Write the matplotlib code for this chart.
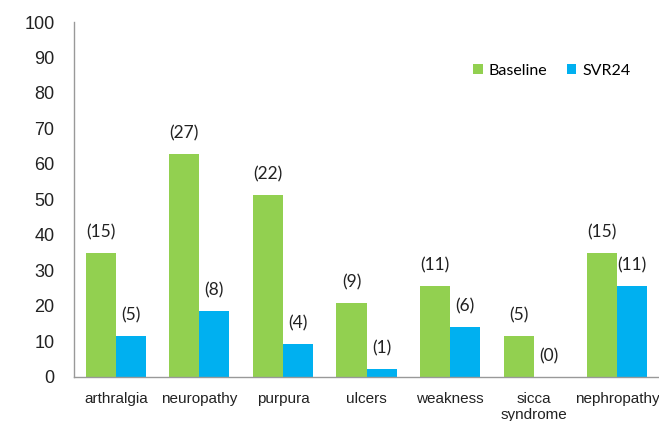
import matplotlib
matplotlib.use("Agg")
import matplotlib.pyplot as plt
import numpy as np

categories = ["arthralgia", "neuropathy", "purpura", "ulcers", "weakness", "sicca\nsyndrome", "nephropathy"]
baseline = [34.9, 62.8, 51.2, 20.9, 25.6, 11.6, 34.9]
svr24 = [11.6, 18.6, 9.3, 2.3, 14.0, 0.0, 25.6]
baseline_n = ["(15)", "(27)", "(22)", "(9)", "(11)", "(5)", "(15)"]
svr24_n = ["(5)", "(8)", "(4)", "(1)", "(6)", "(0)", "(11)"]
yticks = [0, 10, 20, 30, 40, 50, 60, 70, 80, 90, 100]

green = "#92D050"
blue = "#00B0F0"
tick_font = ["Liberation Sans Narrow", "Liberation Sans", "DejaVu Sans"]
label_font = ["Lato", "DejaVu Sans"]

fig = plt.figure(figsize=(6.59, 4.21), dpi=100)
ax = fig.add_axes([0.1123, 0.1052, 0.8877, 0.8425])

x = np.arange(len(categories))
w = 0.36
ax.bar(x - w / 2, baseline, w, color=green, label="Baseline")
ax.bar(x + w / 2, svr24, w, color=blue, label="SVR24")

for xi, v, t in zip(x, baseline, baseline_n):
    ax.annotate(t, (xi - w / 2, v), xytext=(0, 9), textcoords="offset points",
                ha="center", va="bottom", fontsize=12.5, color="#222222", family=label_font)
for xi, v, t in zip(x, svr24, svr24_n):
    ax.annotate(t, (xi + w / 2, v), xytext=(0, 9), textcoords="offset points",
                ha="center", va="bottom", fontsize=12.5, color="#222222", family=label_font)

ax.set_xlim(-0.5, len(categories) - 0.5)
ax.set_ylim(0, 100)
ax.set_yticks(yticks)
ax.set_yticklabels([str(t) for t in yticks], fontsize=13, family=tick_font, color="#222222")
ax.set_xticks(x)
ax.set_xticklabels(categories, fontsize=11, family=tick_font, color="#222222", linespacing=1.15)
ax.tick_params(axis="y", length=0, pad=14)
ax.tick_params(axis="x", length=0, pad=11)

for s in ["top", "right"]:
    ax.spines[s].set_visible(False)
for s in ["left", "bottom"]:
    ax.spines[s].set_color("#999999")
    ax.spines[s].set_linewidth(1.0)

leg = ax.legend(loc="center", bbox_to_anchor=(552 / 659, 1 - 71 / 421), bbox_transform=fig.transFigure,
                ncol=2, frameon=False, handlelength=0.6, handleheight=0.6, handletextpad=0.4,
                columnspacing=1.2, prop={"family": label_font, "size": 11.5})

fig.savefig("out.png", dpi=100)
